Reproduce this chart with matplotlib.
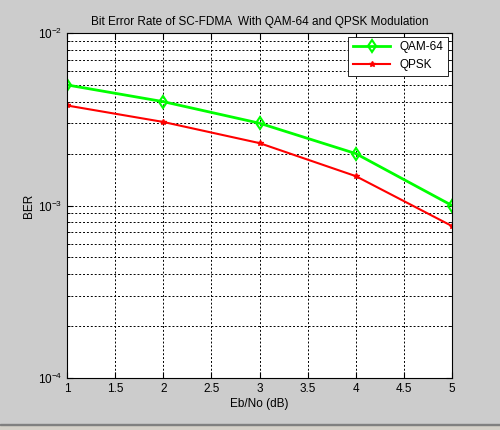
import matplotlib
matplotlib.use('Agg')
import matplotlib.pyplot as plt
from matplotlib.patches import Rectangle

plt.rcParams['font.family'] = ['Liberation Sans', 'DejaVu Sans']

ebno = [1, 2, 3, 4, 5]
ber_qam64 = [5.0e-3, 4.0e-3, 3.0e-3, 2.0e-3, 1.0e-3]
ber_qpsk = [3.8e-3, 3.05e-3, 2.3e-3, 1.48e-3, 7.6e-4]
xticks = [1, 1.5, 2, 2.5, 3, 3.5, 4, 4.5, 5]

fig = plt.figure(figsize=(5, 4.3), dpi=100, facecolor='#cccccc')
ax = fig.add_axes([67/500, 1 - 378/430, (452-67)/500, (378-33)/430])
ax.set_facecolor('white')

ax.semilogy(ebno, ber_qam64, color='#00ff00', lw=2, marker='d', ms=6,
            mfc='none', mec='#00ff00', mew=1.5, label='QAM-64')
ax.semilogy(ebno, ber_qpsk, color='#ff0000', lw=1.5, marker='*', ms=4,
            label='QPSK')

ax.set_xlim(1, 5)
ax.set_ylim(1e-4, 1e-2)
ax.set_xticks(xticks)
ax.set_xticklabels([f'{t:g}' for t in xticks])
ax.grid(True, which='major', color='black', ls=(0, (2, 2)), lw=0.7)
ax.grid(True, which='minor', axis='y', color='black', ls=(0, (2, 2)), lw=0.7)
ax.tick_params(which='both', direction='in', top=True, right=True, labelsize=8.5)
ax.tick_params(which='major', length=4)
ax.tick_params(which='minor', length=2)
for s in ax.spines.values():
    s.set_linewidth(0.8)

ax.set_title('Bit Error Rate of SC-FDMA  With QAM-64 and QPSK Modulation',
             fontsize=8.5, pad=6)
ax.set_xlabel('Eb/No (dB)', fontsize=8.5, labelpad=2)
ax.set_ylabel('BER', fontsize=8.5, labelpad=2)

leg = ax.legend(loc='upper right', fontsize=8.5, fancybox=False,
                edgecolor='black', framealpha=1, borderaxespad=0.3,
                handlelength=3.2)
leg.get_frame().set_linewidth(0.6)

fig.patches.append(Rectangle((0, 0), 1, 5/430, transform=fig.transFigure,
                             color='#d4d0c8', zorder=-1))
fig.patches.append(Rectangle((0, 5/430), 1, 1/430, transform=fig.transFigure,
                             color='#808080', zorder=-1))

fig.savefig('out.png', dpi=100, facecolor=fig.get_facecolor())
